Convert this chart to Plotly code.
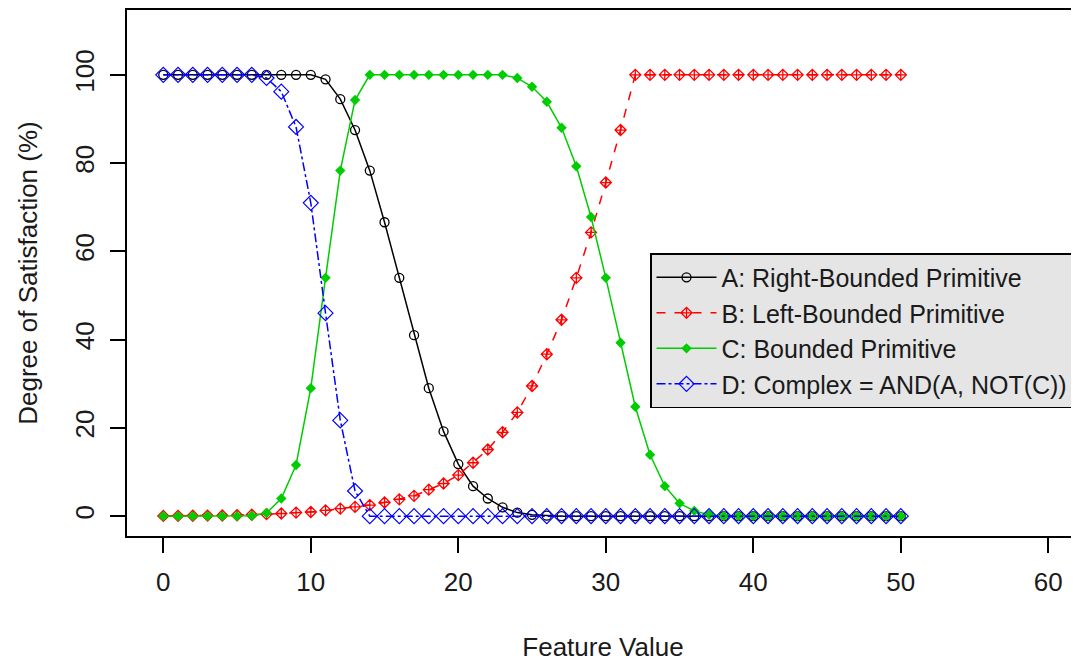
import plotly.graph_objects as go

x_vals = list(range(0, 51))

a_right_bounded = [100, 100, 100, 100, 100, 100, 100, 100, 100, 100, 100,
                   99, 94.5, 87.5, 78.3, 66.6, 54, 41, 29, 19.2, 11.8,
                   6.8, 4.0, 2.0, 0.8, 0.3, 0.1, 0, 0, 0, 0,
                   0, 0, 0, 0, 0, 0, 0, 0, 0, 0,
                   0, 0, 0, 0, 0, 0, 0, 0, 0, 0]

b_left_bounded = [0.05, 0.07, 0.09, 0.12, 0.15, 0.2, 0.3, 0.45, 0.6, 0.8, 0.95,
                  1.3, 1.7, 2.1, 2.5, 3.1, 3.8, 4.6, 6.0, 7.4, 9.3,
                  12.1, 15.1, 19.0, 23.5, 29.5, 36.7, 44.5, 54, 64.3, 75.6,
                  87.5, 100, 100, 100, 100, 100, 100, 100, 100, 100,
                  100, 100, 100, 100, 100, 100, 100, 100, 100, 100]

c_bounded = [0, 0, 0, 0, 0, 0, 0.1, 0.7, 4.0, 11.6, 29.0,
             54, 78.3, 94.3, 100, 100, 100, 100, 100, 100, 100,
             100, 100, 100, 99.3, 97.3, 93.9, 88, 79.3, 67.8, 54,
             39.3, 24.8, 13.9, 6.8, 2.9, 1.2, 0.3, 0, 0, 0,
             0, 0, 0, 0, 0, 0, 0, 0, 0, 0]

d_complex = [100, 100, 100, 100, 100, 100, 100, 99.3, 96.2, 88.2, 71,
             46, 21.7, 5.7, 0, 0, 0, 0, 0, 0, 0,
             0, 0, 0, 0, 0, 0, 0, 0, 0, 0,
             0, 0, 0, 0, 0, 0, 0, 0, 0, 0,
             0, 0, 0, 0, 0, 0, 0, 0, 0, 0]

series_names = ["A: Right-Bounded Primitive", "B: Left-Bounded Primitive",
                "C: Bounded Primitive", "D: Complex = AND(A, NOT(C))"]

x_ticks = [0, 10, 20, 30, 40, 50, 60]
y_ticks = [0, 20, 40, 60, 80, 100]

FONT = "Liberation Sans, Arial, sans-serif"

fig = go.Figure()
fig.add_trace(go.Scatter(
    x=x_vals, y=a_right_bounded, name=series_names[0], mode="lines+markers",
    line=dict(color="#000000", width=1.5),
    marker=dict(symbol="circle-open", size=9, color="#000000", line=dict(width=1.3))))
fig.add_trace(go.Scatter(
    x=x_vals, y=b_left_bounded, name=series_names[1], mode="lines+markers",
    line=dict(color="#FF0000", width=1.5, dash="dash"),
    marker=dict(symbol="diamond-cross-open", size=8.5, color="#FF0000", line=dict(width=1.3))))
fig.add_trace(go.Scatter(
    x=x_vals, y=c_bounded, name=series_names[2], mode="lines+markers",
    line=dict(color="#00CD00", width=1.5),
    marker=dict(symbol="diamond", size=8, color="#00CD00", line=dict(width=0))))
fig.add_trace(go.Scatter(
    x=x_vals, y=d_complex, name=series_names[3], mode="lines+markers",
    line=dict(color="#0000FF", width=1.5, dash="dashdot"),
    marker=dict(symbol="diamond-open", size=11.5, color="#0000FF", line=dict(width=1.2))))

# page has an 8px body margin: figure origin sits at (8, 8) in the window
fig.update_layout(
    width=1071, height=656,
    margin=dict(l=119, r=0, t=0, b=128),
    paper_bgcolor="white", plot_bgcolor="white",
    font=dict(family=FONT, color="#000000", size=26),
    showlegend=True,
    legend=dict(
        x=(642 - 119) / 952, y=1 - 244 / 528, xanchor="left", yanchor="top",
        bgcolor="#E5E5E5", bordercolor="#000000", borderwidth=1.5,
        font=dict(family=FONT, size=25, color="#1a1a1a"),
        itemwidth=60, tracegroupgap=0,
    ),
    xaxis=dict(
        range=[-2.46, 62.08], tickvals=x_ticks, ticktext=[str(v) for v in x_ticks],
        showgrid=False, zeroline=False,
        showline=True, linecolor="#000000", linewidth=1.5, mirror=True,
        ticks="outside", ticklen=15, tickwidth=1.5, tickcolor="#000000",
        ticklabelstandoff=7,
        tickfont=dict(size=26, color="#1a1a1a"),
        title=dict(text="Feature Value", font=dict(size=26, color="#1a1a1a"), standoff=42),
    ),
    yaxis=dict(
        range=[-4.5, 114.7], tickvals=y_ticks, ticktext=[str(v) for v in y_ticks],
        showgrid=False, zeroline=False,
        showline=True, linecolor="#000000", linewidth=1.5, mirror=False,
        ticks="outside", ticklen=15, tickwidth=1.5, tickcolor="#000000",
        tickangle=-90, ticklabelstandoff=6,
        tickfont=dict(size=26, color="#1a1a1a"),
        title=dict(text="Degree of Satisfaction (%)", font=dict(size=26, color="#1a1a1a"), standoff=25),
    ),
)

fig.write_html("out.html")
